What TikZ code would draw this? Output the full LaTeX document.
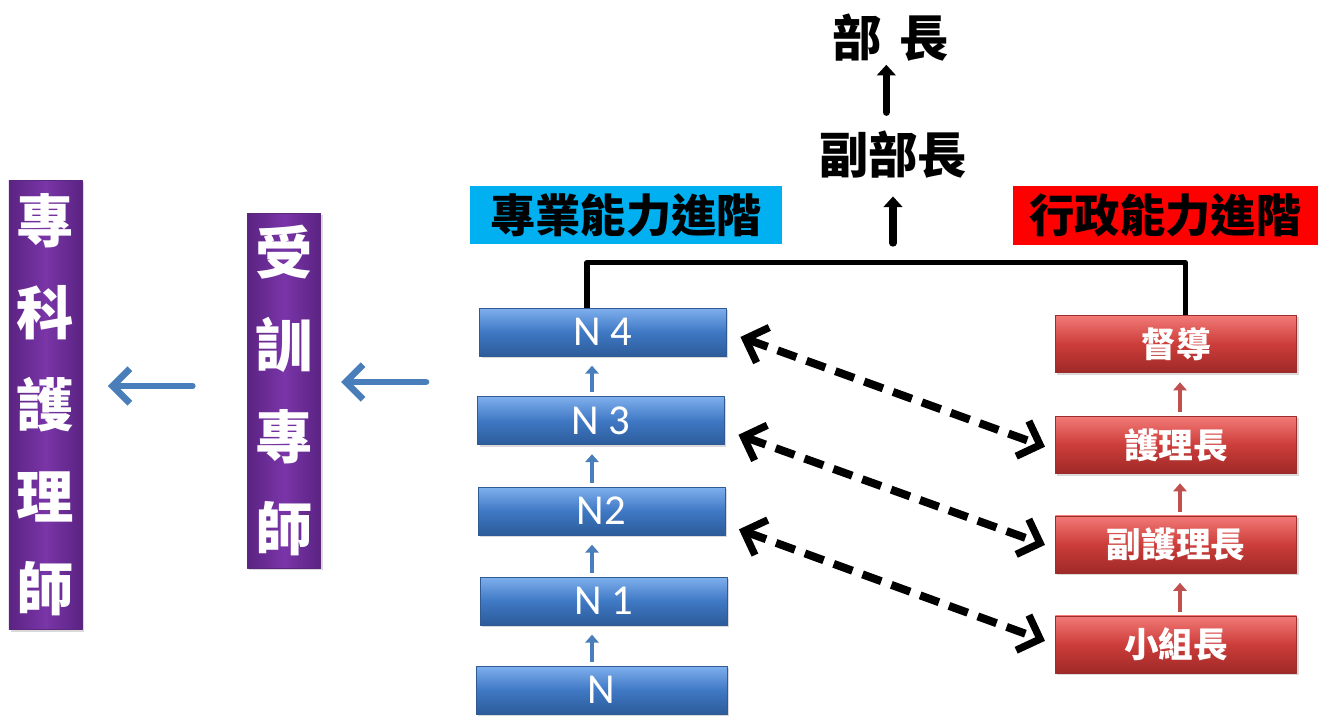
\documentclass[tikz,border=0pt]{standalone}
\usepackage{fontspec}
\newfontfamily\cjk{Noto Sans CJK TC}
\newfontfamily\latin{Carlito}
\usetikzlibrary{arrows.meta,shadows}
\definecolor{boxblue}{HTML}{3F78C4}
\definecolor{boxbluetop}{HTML}{7FB0EE}
\definecolor{boxbluebot}{HTML}{2C5C9A}
\definecolor{boxred}{HTML}{CC3D3A}
\definecolor{boxredtop}{HTML}{F27A78}
\definecolor{boxredbot}{HTML}{9E2927}
\definecolor{boxpurple}{HTML}{7A35A8}
\definecolor{boxpurplebot}{HTML}{5A2382}
\definecolor{arrowblue}{HTML}{4A7EBB}
\definecolor{arrowred}{HTML}{C0504D}
\definecolor{labelcyan}{HTML}{00B0F0}
\begin{document}
\begin{tikzpicture}[x=0.75pt,y=-0.75pt,line join=round,line cap=round,>=Triangle]
\tikzset{
  bevel/.style={draw=#1!75!black, line width=0.5pt, inner sep=0pt,
    drop shadow={opacity=0.3,shadow xshift=1.5pt,shadow yshift=-1.5pt}},
  bluebox/.style={bevel=boxblue, top color=boxbluetop, bottom color=boxbluebot, middle color=boxblue,
    minimum width=185pt, minimum height=36pt, text=white, font=\latin\fontsize{32}{32}\selectfont},
  redbox/.style={bevel=boxred, top color=boxredtop, bottom color=boxredbot, middle color=boxred,
    minimum width=181pt, minimum height=43pt, text=white, font=\cjk\bfseries\fontsize{26}{26}\selectfont},
  purplebox/.style={bevel=boxpurple, left color=boxpurplebot, right color=boxpurplebot, middle color=boxpurple,
    minimum width=55pt, text=white, align=center, font=\cjk\bfseries\fontsize{43}{69}\selectfont},
  tagbox/.style={fill=#1, inner sep=0pt, minimum height=44pt, font=\cjk\bfseries\fontsize{34}{34}\selectfont},
  title/.style={inner sep=0pt, font=\cjk\bfseries\fontsize{37}{37}\selectfont},
  nstep/.style={->, arrowblue, line width=3.5pt, line cap=butt, >={Triangle[length=6pt,width=10pt]},
    shorten <=3pt, shorten >=7pt},
  rstep/.style={->, arrowred, line width=3.5pt, line cap=butt, >={Triangle[length=6pt,width=10pt]},
    shorten <=3pt, shorten >=7pt},
  bossup/.style={->, line width=5.5pt, >={Triangle[length=8pt,width=14pt]}},
  swap/.style={{Straight Barb[length=14pt,width=28pt,line width=5.5pt]}-{Straight Barb[length=14pt,width=28pt,line width=5.5pt]},
    line width=6pt, line cap=butt, dash pattern=on 15pt off 8pt},
  promote/.style={->, arrowblue, line width=5pt, >={Straight Barb[length=13pt,width=26pt,line width=5pt]}}
}
\useasboundingbox (0,0) rectangle (1322,717);
% professional ladder
\node[bluebox] (n4) at (603,332) {N 4};
\node[bluebox] (n3) at (601,420.5) {N 3};
\node[bluebox] (n2) at (601.5,511) {N2};
\node[bluebox] (n1) at (603.5,601) {N 1};
\node[bluebox, minimum width=188pt] (n0) at (601.5,690) {N};
\coordinate (bx) at (592,0);
\foreach \lo/\hi in {n0/n1,n1/n2,n2/n3,n3/n4}
  \draw[nstep] (\lo.north -| bx) -- (\hi.south -| bx);
% administrative ladder
\node[redbox] (dudao) at (1176,344) {督導};
\node[redbox] (hulizhang) at (1176,445) {護理長};
\node[redbox] (fuhuli) at (1176,544.5) {副護理長};
\node[redbox] (xiaozu) at (1176,644.5) {小組長};
\coordinate (rx) at (1180,0);
\foreach \lo/\hi in {xiaozu/fuhuli,fuhuli/hulizhang,hulizhang/dudao}
  \draw[rstep] (\lo.north -| rx) -- (\hi.south -| rx);
% cross links
\draw[swap, shorten <=11pt, shorten >=8pt] (n4.east) -- ([yshift=-4pt]hulizhang.west);
\draw[swap, shorten <=11pt, shorten >=8pt] ([yshift=-7pt]n3.east) -- ([yshift=-3pt]fuhuli.west);
\draw[swap, shorten <=11pt, shorten >=8pt] ([yshift=-10pt]n2.east) -- (xiaozu.west);
% tags
\node[tagbox=labelcyan, minimum width=234pt] (zhuanye) at (626,215) {專業能力進階};
\node[tagbox=red, minimum width=229pt] (xingzheng) at (1165.5,215.5) {行政能力進階};
% top of the ladder
\draw[line width=4pt, line cap=butt] ([xshift=-12pt]n4.north) -- ++(0,-45) -| ([xshift=7pt]dudao.north);
\node[title] (fubuzhang) at (893,155) {副部長};
\node[title] (buzhang) at (891,38) {部\hspace{0.36em}長};
\coordinate (bossfoot) at (893,243);
\draw[bossup, shorten >=13pt] (bossfoot) -- (fubuzhang.south -| bossfoot);
\draw[bossup, shorten <=14pt, shorten >=2pt] ([xshift=-5pt]fubuzhang.north) -- ([xshift=-5pt]fubuzhang.north |- buzhang.south);
% nurse practitioner track
\node[purplebox, minimum height=266pt] (shouxun) at (284,390.5) {受\\訓\\專\\師};
\node[purplebox, minimum height=337pt] (zhuanke) at (45.5,405) {專\\科\\護\\理\\師};
\coordinate (feed) at (426,382);
\draw[promote, shorten >=15pt] (feed) -- (shouxun.east |- feed);
\coordinate (hand) at (0,386);
\draw[promote, shorten <=41pt, shorten >=19pt] (shouxun.west |- hand) -- (zhuanke.east |- hand);
\end{tikzpicture}
\end{document}
